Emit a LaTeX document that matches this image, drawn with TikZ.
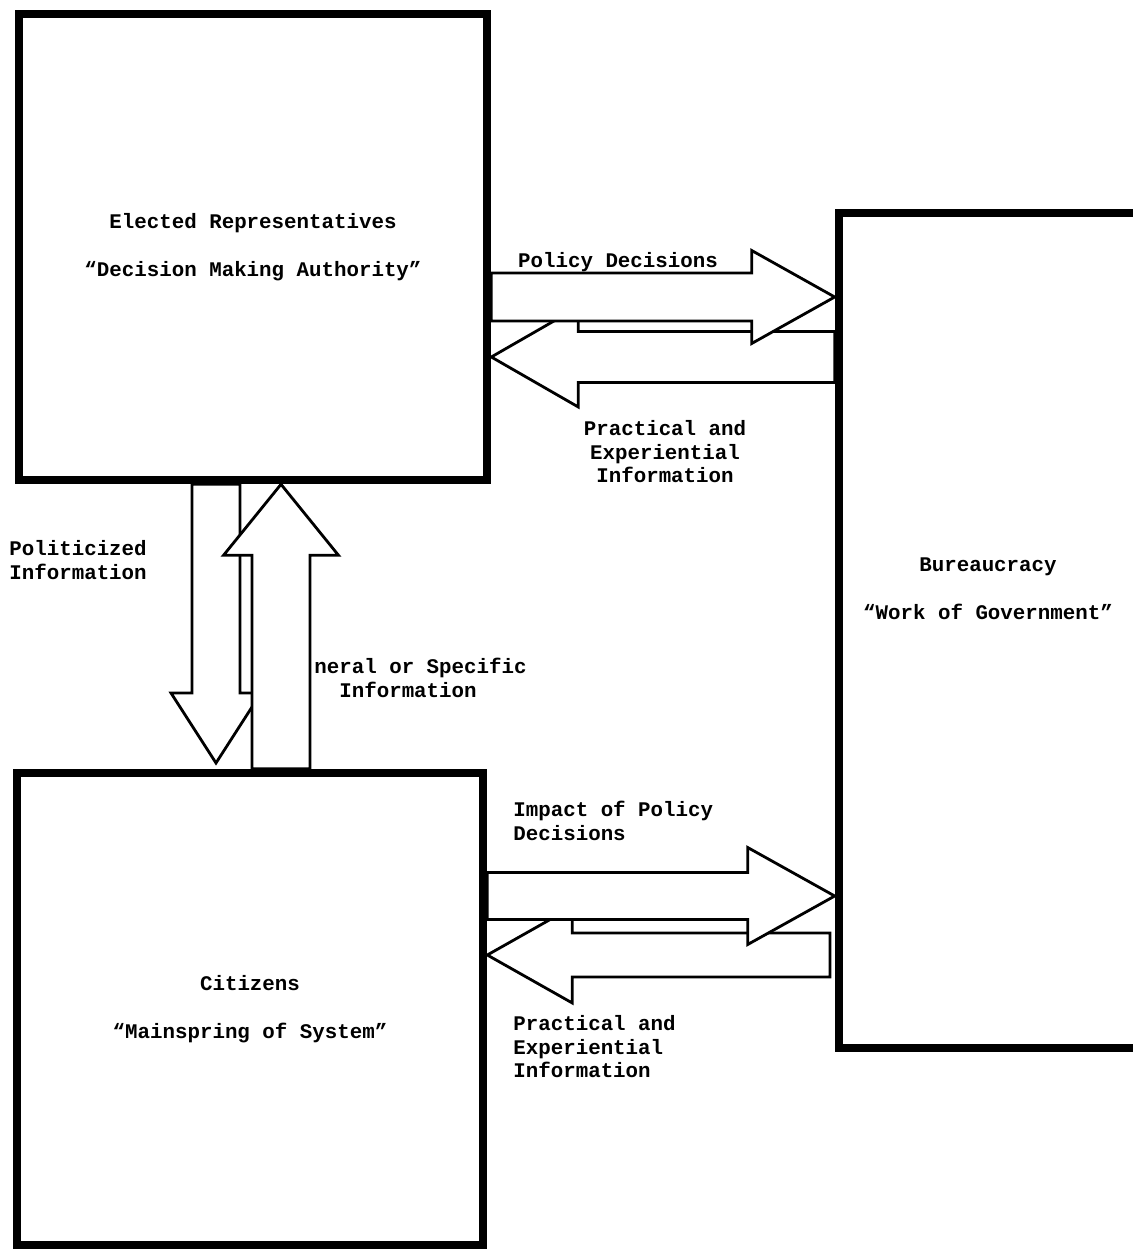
\documentclass[tikz,border=0pt]{standalone}
\usepackage{fontspec}
\setmonofont{Liberation Mono}
\usepackage{tikz}
\usetikzlibrary{positioning, calc}

% block arrow: start, tip, shaft half width, head half width, head length (px)
\newcommand{\fatarrow}[5]{%
  \coordinate (fa-h) at ($(#2)!#5*0.5pt!(#1)$);
  \draw[fatarrow] ($(#1)!#3*0.5pt!90:(#2)$) -- ($(fa-h)!#3*0.5pt!90:(#2)$)
    -- ($(fa-h)!#4*0.5pt!90:(#2)$) -- (#2) -- ($(fa-h)!#4*0.5pt!-90:(#2)$)
    -- ($(fa-h)!#3*0.5pt!-90:(#2)$) -- ($(#1)!#3*0.5pt!-90:(#2)$) -- cycle;
}

\begin{document}
\begin{tikzpicture}[x=0.5pt, y=-0.5pt,
    every node/.style={font=\ttfamily\bfseries\fontsize{10.4pt}{11.75pt}\selectfont},
    block/.style={draw, line width=4.3pt, inner sep=0pt, align=center},
    note/.style={inner sep=0pt, align=center},
    fatarrow/.style={draw, fill=white, line width=1.4pt, line join=miter}]
    \useasboundingbox (0,0) rectangle (1132,1251);

    \node[block, minimum width=234pt, minimum height=233pt] (elected) at (253,247) {Elected Representatives\\[12.25pt]“Decision Making Authority”};
    \node[block, minimum width=233pt, minimum height=236pt] (citizens) at (250,1009) {Citizens\\[12.25pt]“Mainspring of System”};
    \node[block, minimum width=149pt, minimum height=417.5pt] (bureau) at (988,630.5) {};
    \node[note] (bureau-text) at (988,589) {Bureaucracy\\[12.25pt]“Work of Government”};

    \node[note] (pd-label) at (618,262) {Policy Decisions};
    \node[note] (pe1-label) at (665,452) {Practical and\\Experiential\\Information};
    \node[note, align=left, anchor=west] (pi-label) at (9,560) {Politicized\\Information};
    \node[note] (gs-label) at (408,678) {\phantom{Ge}neral or Specific\\Information};
    \node[note, align=left, anchor=west] (ip-label) at (513,821) {Impact of Policy\\Decisions};
    \node[note, align=left, anchor=west] (pe2-label) at (513,1047) {Practical and\\Experiential\\Information};

    \coordinate (pd-s) at (elected.east |- 0,297);
    \coordinate (pd-t) at (bureau.west |- 0,297);
    \coordinate (pe1-s) at (bureau.west |- 0,357);
    \coordinate (pe1-t) at (elected.east |- 0,357);
    \coordinate (ip-s) at (citizens.east |- 0,896);
    \coordinate (ip-t) at (bureau.west |- 0,896);
    \coordinate (pe2-s) at (830,955);
    \coordinate (pe2-t) at (citizens.east |- 0,955);
    \coordinate (pi-s) at (elected.south -| 216,0);
    \coordinate (pi-t) at (216,763);
    \coordinate (gs-s) at (citizens.north -| 281,0);
    \coordinate (gs-t) at (elected.south -| 281,0);

    \fatarrow{pe1-s}{pe1-t}{25.5}{50}{87}
    \fatarrow{pd-s}{pd-t}{24}{46.5}{83}
    \fatarrow{pe2-s}{pe2-t}{22}{48}{85}
    \fatarrow{ip-s}{ip-t}{23.5}{48.5}{87}
    \fatarrow{pi-s}{pi-t}{24}{45}{70}
    \fatarrow{gs-s}{gs-t}{29}{57.5}{71}
\end{tikzpicture}
\end{document}
